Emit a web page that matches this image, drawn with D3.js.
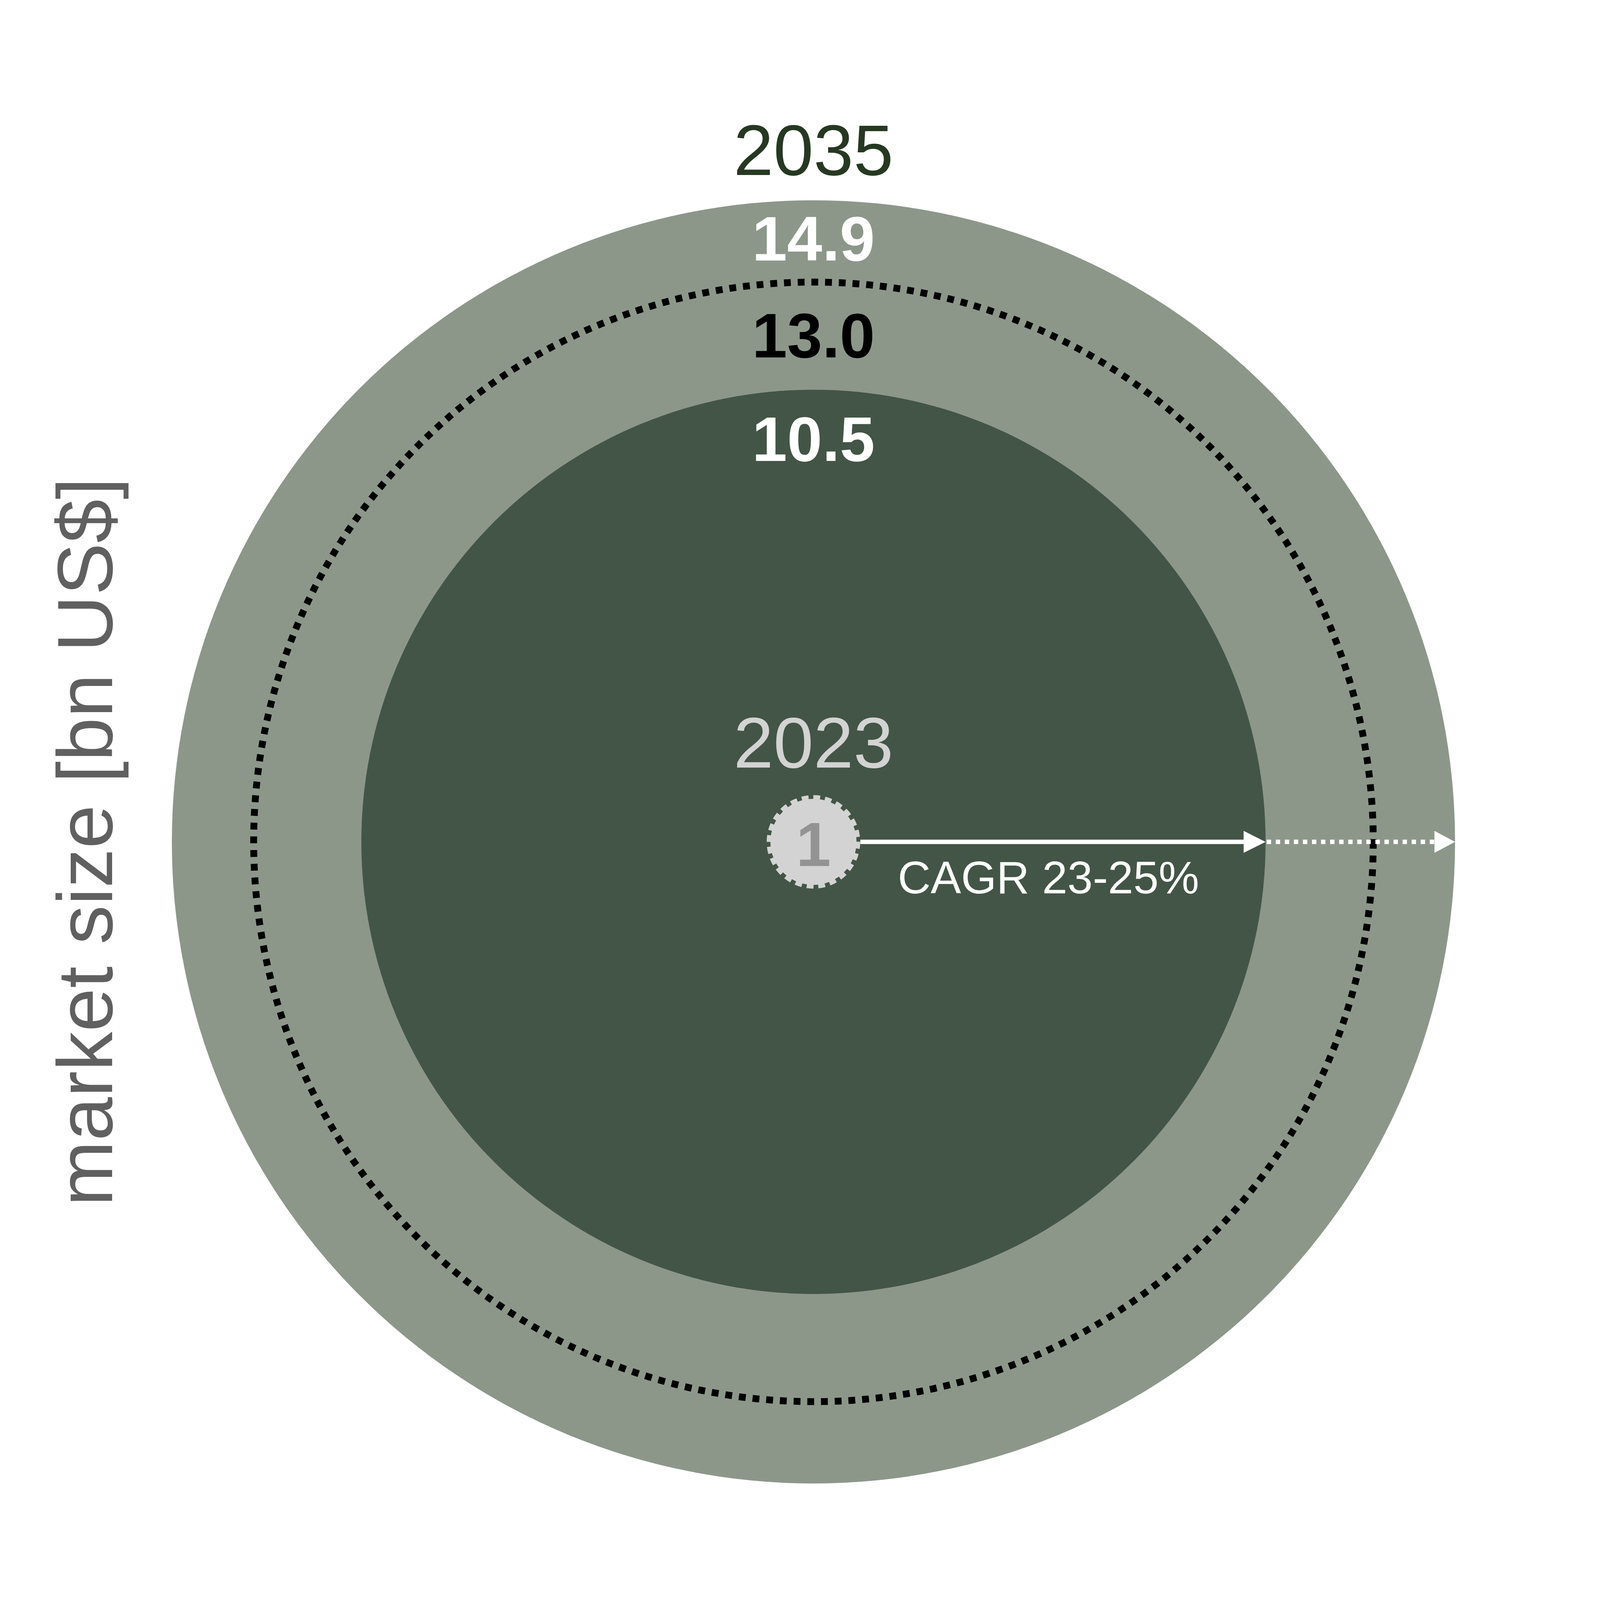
<!DOCTYPE html>
<html>
<head>
<meta charset="utf-8">
<script src="https://cdn.jsdelivr.net/npm/d3@7"></script>
<style>
  html, body { margin: 0; padding: 0; background: #fff; overflow: hidden; }
  svg { display: block; width: 100vw; height: 100vh; font-family: "Helvetica Neue", Helvetica, "Liberation Sans", Arial, sans-serif; }
</style>
</head>
<body>
<div id="chart"></div>
<script>
// market size in bn US$
const years = ["2023", "2035"];
const baseValue = 1;
const rangeValues = [10.5, 13.0, 14.9];      // low, mid, high for 2035
const valueLabels = ["10.5", "13.0", "14.9"];
const cagrLabel = "CAGR 23-25%";
const axisLabel = "market size [bn US$]";

const width = 5828, height = 4985;
const cx = 2963, cy = 2645;

// scale the drawing to whatever viewport we get
const svg = d3.select("#chart")
    .append("svg")
    .attr("viewBox", `0 0 ${width} ${height}`)
    .attr("preserveAspectRatio", "xMidYMid meet");

svg.append("rect").attr("width", width).attr("height", height).attr("fill", "#fff");

// radius scales linearly with the value
const r = d3.scaleLinear()
    .domain([0, d3.max(rangeValues)])
    .range([0, 2337]);

const g = svg.append("g").attr("transform", `translate(${cx},${cy})`);

// outer ring (high estimate)
g.append("circle")
    .attr("r", r(rangeValues[2]))
    .attr("fill", "#8c978a");

// inner disc (low estimate)
g.append("circle")
    .attr("r", r(rangeValues[0]))
    .attr("fill", "#435546");

// dotted ring (mid estimate)
g.append("circle")
    .attr("r", r(rangeValues[1]))
    .attr("fill", "none")
    .attr("stroke", "#000")
    .attr("stroke-width", 25)
    .attr("stroke-dasharray", "25 25");

// 2023 market
g.append("circle")
    .attr("r", r(baseValue))
    .attr("fill", "#d3d3d3")
    .attr("stroke", "#d3d3d3")
    .attr("stroke-width", 27)
    .attr("stroke-dasharray", "24 17");

g.append("text")
    .attr("x", 0)
    .attr("y", 88)
    .attr("text-anchor", "middle")
    .attr("font-size", 228)
    .attr("font-weight", "bold")
    .attr("fill", "#939393")
    .text(baseValue);

// arrows: solid to the low estimate, dotted on to the high estimate
const x0 = r(baseValue) + 14;
g.append("line")
    .attr("x1", x0).attr("x2", r(rangeValues[0]) - 40)
    .attr("stroke", "#fff").attr("stroke-width", 16);
g.append("path")
    .attr("d", `M${r(rangeValues[0]) - 80},-40L${r(rangeValues[0])},0L${r(rangeValues[0]) - 80},40Z`)
    .attr("fill", "#fff");

g.append("line")
    .attr("x1", r(rangeValues[0]) + 4).attr("x2", r(rangeValues[2]) - 70)
    .attr("stroke", "#fff").attr("stroke-width", 16)
    .attr("stroke-dasharray", "16 17");
g.append("path")
    .attr("d", `M${r(rangeValues[2]) - 75},-40L${r(rangeValues[2])},0L${r(rangeValues[2]) - 75},40Z`)
    .attr("fill", "#fff");

g.append("text")
    .attr("x", 856)
    .attr("y", 188)
    .attr("text-anchor", "middle")
    .attr("font-size", 166)
    .attr("font-weight", 300)
    .attr("fill", "#fff")
    .text(cagrLabel);

// value labels, placed just inside the top of each ring
const labelColors = ["#fff", "#000", "#fff"];
const labelOffsets = [259, 274, 219];
g.selectAll("text.value")
    .data(rangeValues)
    .enter()
    .append("text")
    .attr("class", "value")
    .attr("x", 0)
    .attr("y", (d, i) => -r(d) + labelOffsets[i])
    .attr("text-anchor", "middle")
    .attr("font-size", 230)
    .attr("font-weight", "bold")
    .attr("fill", (d, i) => labelColors[i])
    .text((d, i) => valueLabels[i]);

// year labels
g.append("text")
    .attr("x", 0)
    .attr("y", -r(d3.max(rangeValues)) - 92)
    .attr("text-anchor", "middle")
    .attr("font-size", 262)
    .attr("fill", "#263822")
    .text(years[1]);

g.append("text")
    .attr("x", 0)
    .attr("y", -r(baseValue) - 114)
    .attr("text-anchor", "middle")
    .attr("font-size", 262)
    .attr("fill", "#d3d3d3")
    .text(years[0]);

// y label
svg.append("text")
    .attr("transform", `translate(408,${cy}) rotate(-90)`)
    .attr("text-anchor", "middle")
    .attr("font-size", 286)
    .attr("fill", "#606060")
    .text(axisLabel);
</script>
</body>
</html>
